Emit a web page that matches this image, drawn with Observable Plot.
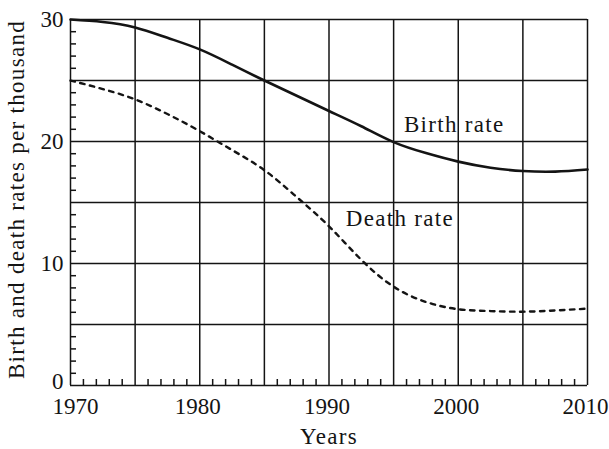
<!DOCTYPE html>
<html>
<head>
<meta charset="utf-8">
<script src="https://cdn.jsdelivr.net/npm/d3@7"></script>
<script src="https://cdn.jsdelivr.net/npm/@observablehq/plot@0.6"></script>
<style>
  html, body { margin: 0; padding: 0; background: #fff; }
  #chart svg g[aria-label="text"] text { letter-spacing: 1.3px; }
</style>
</head>
<body>
<div id="chart"></div>
<script>
const years = [1970, 1972.5, 1975, 1977.5, 1980, 1982.5, 1985, 1987.5, 1990, 1992.5, 1995, 1997.5, 2000, 2002.5, 2005, 2007.5, 2010];
const birthRate = [30.0, 29.8, 29.35, 28.5, 27.55, 26.3, 25.0, 23.75, 22.5, 21.25, 19.95, 19.05, 18.35, 17.85, 17.58, 17.53, 17.7];
const deathRate = [25.0, 24.3, 23.45, 22.25, 20.85, 19.3, 17.65, 15.45, 13.05, 10.3, 8.1, 6.85, 6.25, 6.1, 6.05, 6.15, 6.3];

const firstYearLabel = [1970];
const xTickLabels = [1980, 1990, 2000, 2010];
const zeroLabel = [0];
const yTickLabels = [10, 20, 30];
const gridYears = [1970, 1975, 1980, 1985, 1990, 1995, 2000, 2005, 2010];
const gridValues = [0, 5, 10, 15, 20, 25, 30];
const minorYears = d3.range(1970, 2011).filter(d => d % 5 !== 0);
const minorValues = d3.range(0, 31).filter(d => d % 5 !== 0);

const xLabel = "Years";
const yLabel = "Birth and death rates per thousand";
const seriesLabels = [
  {name: "Birth rate", year: 1995.8, value: 21.36},
  {name: "Death rate", year: 1991.3, value: 13.65}
];

const birth = years.map((y, i) => ({year: y, value: birthRate[i]}));
const death = years.map((y, i) => ({year: y, value: deathRate[i]}));

const ink = "#141414";
const fmt = d => String(d);

const chart = Plot.plot({
  width: 609,
  height: 449,
  marginLeft: 70,
  marginRight: 22,
  marginTop: 19,
  marginBottom: 64,
  style: {fontFamily: "'Liberation Serif', serif", fontSize: "23px", background: "#fff", color: ink},
  x: {domain: [1970, 2010]},
  y: {domain: [0, 30]},
  marks: [
    Plot.gridX(gridYears, {stroke: ink, strokeOpacity: 1, strokeWidth: 1.5}),
    Plot.gridY(gridValues, {stroke: ink, strokeOpacity: 1, strokeWidth: 1.5}),
    Plot.axisX(minorYears, {tickSize: -6, text: null, stroke: ink, strokeWidth: 1.5, label: null}),
    Plot.axisY(minorValues, {tickSize: -6, text: null, stroke: ink, strokeWidth: 1.5, label: null}),
    Plot.axisX(firstYearLabel, {tickSize: 0, tickPadding: 12.5, dx: 5, tickFormat: fmt, label: null, fill: ink, fontSize: 23}),
    Plot.axisX(xTickLabels, {tickSize: 0, tickPadding: 12.5, dx: -2, tickFormat: fmt, label: null, fill: ink, fontSize: 23}),
    Plot.axisY(zeroLabel, {tickSize: 0, tickPadding: 7, dy: -4, tickFormat: fmt, label: null, fill: ink, fontSize: 23}),
    Plot.axisY(yTickLabels, {tickSize: 0, tickPadding: 7, tickFormat: fmt, label: null, fill: ink, fontSize: 23}),
    Plot.line(birth, {x: "year", y: "value", curve: "natural", stroke: ink, strokeWidth: 2.6}),
    Plot.line(death, {x: "year", y: "value", curve: "natural", stroke: ink, strokeWidth: 2.4, strokeDasharray: "4.5,5.5"}),
    Plot.text(seriesLabels, {x: "year", y: "value", text: "name", textAnchor: "start", fill: ink, fontSize: 23}),
    Plot.text([xLabel], {frameAnchor: "bottom", textAnchor: "middle", lineAnchor: "middle", dy: 51, fill: ink, fontSize: 23}),
    Plot.text([yLabel], {frameAnchor: "left", rotate: -90, textAnchor: "middle", lineAnchor: "middle", dx: -53.5, dy: -3, fill: ink, fontSize: 23})
  ]
});
document.getElementById("chart").appendChild(chart);
</script>
</body>
</html>
